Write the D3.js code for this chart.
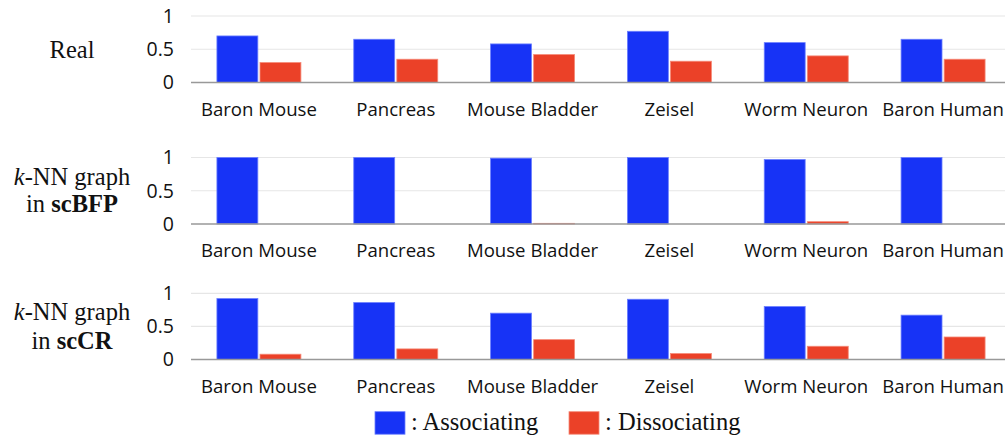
<!DOCTYPE html>
<html><head><meta charset="utf-8">
<script src="https://cdn.jsdelivr.net/npm/d3@7"></script>
<style>html,body{margin:0;padding:0;background:#fff;} svg{display:block;}
.serif{font-family:"Liberation Serif","Tinos","Times New Roman",Times,"DejaVu Serif",serif;}
.sans{font-family:"Open Sans","Noto Sans",sans-serif;}
</style>
</head><body>
<svg id="chart" width="1005" height="435"></svg>
<script>
const categories = ["Baron Mouse","Pancreas","Mouse Bladder","Zeisel","Worm Neuron","Baron Human"];
const seriesNames = ["Associating","Dissociating"];
const realAssoc = [0.70,0.65,0.58,0.77,0.60,0.65];
const realDissoc = [0.30,0.35,0.42,0.32,0.40,0.35];
const bfpAssoc = [1.00,1.00,0.99,1.00,0.97,1.00];
const bfpDissoc = [0.00,0.00,0.01,0.00,0.035,0.00];
const crAssoc = [0.92,0.86,0.70,0.91,0.80,0.67];
const crDissoc = [0.08,0.16,0.30,0.09,0.20,0.34];
const yTicks = [0,0.5,1];
const yTickLabels = ["0","0.5","1"];

const panels = [
  {label:[[{t:"Real"}]], assoc:realAssoc, dissoc:realDissoc},
  {label:[[{t:"k",i:true},{t:"-NN graph"}],[{t:"in "},{t:"scBFP",b:true}]], assoc:bfpAssoc, dissoc:bfpDissoc},
  {label:[[{t:"k",i:true},{t:"-NN graph"}],[{t:"in "},{t:"scCR",b:true}]], assoc:crAssoc, dissoc:crDissoc}
];
const layout = [
  {y0:82.5, y1:16, labY:[58]},
  {y0:224, y1:157.5, labY:[185,211.5]},
  {y0:359.5, y1:293.3, labY:[320,348.5]}
];
const colors = {Associating:"#1733f6", Dissociating:"#eb4128"};
const strokes = {Associating:"#6b7fff", Dissociating:"#f58a78"};

const svg = d3.select("#chart");
const x0 = d3.scaleBand().domain(categories).range([190.5,1011.5]).paddingInner(0).paddingOuter(0);
const step = x0.bandwidth();
const x1 = d3.scaleBand().domain(seriesNames).range([0,84]).paddingInner(0.05);

panels.forEach((p,pi)=>{
  const L = layout[pi];
  const y = d3.scaleLinear().domain([0,1]).range([L.y0,L.y1]);
  const g = svg.append("g");
  g.selectAll("line.grid").data(yTicks.filter(d=>d>0)).enter().append("line")
    .attr("x1",191).attr("x2",1005).attr("y1",d=>y(d)).attr("y2",d=>y(d))
    .attr("stroke","#e6e6e6").attr("stroke-width",1.2);
  const ax = d3.axisLeft(y).tickValues(yTicks).tickFormat((d,i)=>yTickLabels[i]).tickSize(0).tickPadding(0);
  const axg = g.append("g").attr("transform","translate(174,0)").call(ax);
  axg.attr("font-family",null).attr("font-size",null);
  axg.select(".domain").remove();
  axg.selectAll("text").attr("class","sans").attr("font-size",19.5).attr("fill","#111");
  const data = categories.map((c,i)=>({c, vals:[{s:"Associating",v:p.assoc[i]},{s:"Dissociating",v:p.dissoc[i]}]}));
  const grp = g.selectAll("g.cat").data(data).enter().append("g")
    .attr("transform",d=>`translate(${x0(d.c)+(step-84)/2},0)`);
  grp.selectAll("rect").data(d=>d.vals.filter(v=>v.v>0)).enter().append("rect")
    .attr("x",d=>x1(d.s)).attr("width",x1.bandwidth())
    .attr("y",d=>y(d.v)).attr("height",d=>y(0)-y(d.v))
    .attr("fill",d=>colors[d.s]).attr("stroke",d=>strokes[d.s]).attr("stroke-width",0.8);
  g.append("line").attr("x1",191).attr("x2",1005).attr("y1",y(0)).attr("y2",y(0))
    .attr("stroke","#999").attr("stroke-width",1.5);
  g.selectAll("text.cat").data(categories).enter().append("text")
    .attr("class","sans")
    .attr("x",d=>x0(d)+step/2).attr("y",y(0)+33)
    .attr("text-anchor","middle").attr("font-size",18.6).attr("fill","#111")
    .text(d=>d);
  p.label.forEach((line,li)=>{
    const t = g.append("text").attr("class","serif").attr("x",72).attr("y",L.labY[li]).attr("text-anchor","middle")
      .attr("font-size",24.5).attr("fill","#111");
    line.forEach(s=>{
      t.append("tspan").text(s.t).attr("font-style",s.i?"italic":null).attr("font-weight",s.b?"bold":null);
    });
  });
});

const leg = svg.append("g");
const legItems = [{s:"Associating",x:375},{s:"Dissociating",x:569}];
legItems.forEach(d=>{
  leg.append("rect").attr("x",d.x).attr("y",411.7).attr("width",30).attr("height",22.5)
    .attr("fill",colors[d.s]).attr("stroke",strokes[d.s]).attr("stroke-width",0.8);
  leg.append("text").attr("class","serif").attr("x",d.x+36).attr("y",430)
    .attr("font-size",24.5).attr("fill","#111")
    .text(": "+d.s);
});
</script>
</body></html>
